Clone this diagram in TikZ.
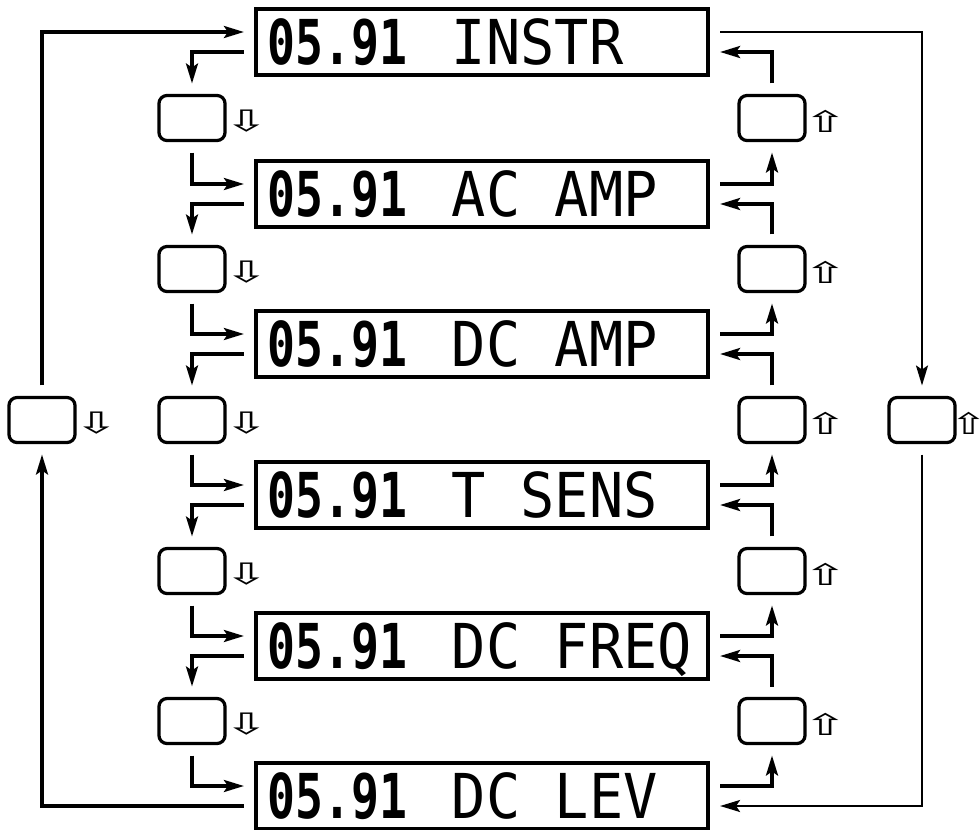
\documentclass[tikz,border=0pt]{standalone}
\usepackage{fontspec}
\usetikzlibrary{arrows.meta, positioning}
\newfontfamily\lcdfont[FakeStretch=0.92]{DejaVu Sans Mono}
\newfontfamily\lcdnum[FakeStretch=0.75]{DejaVu Sans Mono}
\newfontfamily\symfont{DejaVu Sans}
\newcommand{\lcdgap}{\hspace{0.86cm}}

\begin{document}
\begin{tikzpicture}[x=0.025cm, y=-0.025cm,
  lcd/.style={draw, line width=2.3pt, minimum width=11.3cm, minimum height=1.65cm,
              inner xsep=0.3cm, inner ysep=0pt, outer xsep=0.3cm, outer ysep=0pt,
              text width=10.7cm, align=left, text height=32pt, text depth=0pt,
              font=\lcdfont\fontsize{44pt}{44pt}\selectfont},
  key/.style={draw, line width=2.3pt, rounded corners=0.2cm,
              minimum width=1.65cm, minimum height=1.125cm,
              outer xsep=0pt, outer ysep=0.3cm},
  hint/.style={font=\symfont\fontsize{21pt}{21pt}\selectfont, inner sep=0pt},
  arr/.style={-{Stealth[length=0.5cm, width=0.3cm, inset=0.1cm]}, line width=2.3pt}
]
\useasboundingbox (0,0) rectangle (980,829);

% displays
\foreach \i/\y/\txt in {1/42/INSTR, 2/194/AC\lcdgap AMP, 3/344/DC\lcdgap AMP,
                        4/495/T\lcdgap SENS, 5/646/DC\lcdgap FREQ, 6/796/DC\lcdgap LEV} {
  \node[lcd] (d\i) at (482,\y) {\makebox[4.6cm][l]{\lcdnum\bfseries 05.91}\txt};
}

% keys between displays
\foreach \i/\y in {1/118, 2/269, 3/420, 4/571, 5/721} {
  \node[key] (lb\i) at (192,\y) {};
  \node[hint] (lh\i) at (247,\y+3) {\scalebox{1.8}[1]{⇩}};
  \node[key] (rb\i) at (772,\y) {};
  \node[hint] (rh\i) at (826,\y+3) {\scalebox{1.8}[1]{⇧}};
}

% outer keys
\node[key] (lo) at (42,420) {};
\node[hint] (loh) at (97,423) {\scalebox{1.8}[1]{⇩}};
\node[key] (ro) at (922,420) {};
\node[hint] (roh) at (969,423) {\scalebox{1.5}[1]{⇧}};

% step down on the left, step up on the right
\foreach \i in {1,...,5} {
  \pgfmathtruncatemacro{\j}{\i+1}
  \draw[arr] ([yshift=-0.25cm]d\i.west) -| (lb\i.north);
  \draw[arr] (lb\i.south) |- ([yshift=0.25cm]d\j.west);
  \draw[arr] ([yshift=0.25cm]d\j.east) -| (rb\i.south);
  \draw[arr] (rb\i.north) |- ([yshift=-0.25cm]d\i.east);
}

% wrap round
\draw[arr] ([yshift=-0.25cm]d6.west) -| (lo.south);
\draw[arr] (lo.north) |- ([yshift=0.25cm]d1.west);
\draw[arr, line width=1.6pt] ([yshift=0.25cm]d1.east) -| (ro.north);
\draw[arr, line width=1.6pt] (ro.south) |- ([yshift=-0.25cm]d6.east);
\end{tikzpicture}
\end{document}
